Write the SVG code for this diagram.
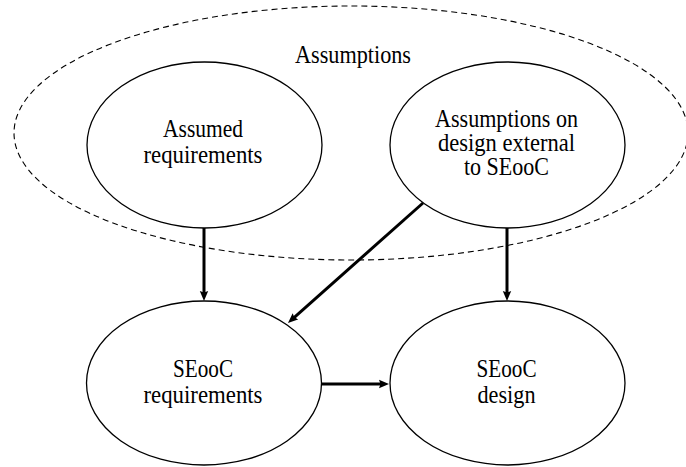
<svg xmlns="http://www.w3.org/2000/svg" width="686" height="467" viewBox="0 0 686 467">
  <style>
    .node { fill: #ffffff; stroke: #000000; stroke-width: 1.3; }
    .group { fill: none; stroke: #000000; stroke-width: 1.1; stroke-dasharray: 6 4; }
    .label { font-family: "Liberation Serif", "DejaVu Serif", serif; font-size: 26px; fill: #000000; text-anchor: middle; }
    .edge { fill: none; stroke: #000000; stroke-width: 3; marker-end: url(#arrow); }
  </style>
  <defs>
    <marker id="arrow" markerUnits="userSpaceOnUse" viewBox="0 0 10 10" markerWidth="10" markerHeight="10" refX="3" refY="5" orient="auto">
      <path d="M0,0.8 L10,5 L0,9.2 L1.5,5 z" fill="#000000"/>
    </marker>
  </defs>
  <rect width="686" height="467" fill="#ffffff"/>

  <!-- dashed grouping region -->
  <g id="assumptions">
    <ellipse class="group" cx="351" cy="133" rx="337" ry="127"/>
    <text class="label" x="353" y="63" textLength="116" lengthAdjust="spacingAndGlyphs">Assumptions</text>
  </g>

  <g id="assumed-requirements">
    <ellipse class="node" cx="204.5" cy="145" rx="117.5" ry="83"/>
    <text class="label" x="203" y="137" textLength="80" lengthAdjust="spacingAndGlyphs">Assumed</text>
    <text class="label" x="203" y="163" textLength="119" lengthAdjust="spacingAndGlyphs">requirements</text>
  </g>

  <g id="assumptions-design">
    <ellipse class="node" cx="507.5" cy="145" rx="117.5" ry="83"/>
    <text class="label" x="506.5" y="127" textLength="143" lengthAdjust="spacingAndGlyphs">Assumptions on</text>
    <text class="label" x="506.5" y="151" textLength="137" lengthAdjust="spacingAndGlyphs">design external</text>
    <text class="label" x="506.5" y="175" textLength="85" lengthAdjust="spacingAndGlyphs">to SEooC</text>
  </g>

  <g id="seooc-requirements">
    <ellipse class="node" cx="204" cy="383" rx="117.5" ry="82"/>
    <text class="label" x="203" y="377" textLength="60" lengthAdjust="spacingAndGlyphs">SEooC</text>
    <text class="label" x="203" y="403" textLength="119" lengthAdjust="spacingAndGlyphs">requirements</text>
  </g>

  <g id="seooc-design">
    <ellipse class="node" cx="507.5" cy="383" rx="117.5" ry="82"/>
    <text class="label" x="506.5" y="377" textLength="60" lengthAdjust="spacingAndGlyphs">SEooC</text>
    <text class="label" x="506.5" y="403" textLength="58" lengthAdjust="spacingAndGlyphs">design</text>
  </g>

  <!-- connectors -->
  <g id="edges">
    <line class="edge" x1="204" y1="228" x2="204" y2="294"/>
    <line class="edge" x1="507" y1="228" x2="507" y2="294"/>
    <line class="edge" x1="423" y1="203" x2="293.2" y2="318.35"/>
    <line class="edge" x1="321.5" y1="384" x2="382" y2="384"/>
  </g>
</svg>
